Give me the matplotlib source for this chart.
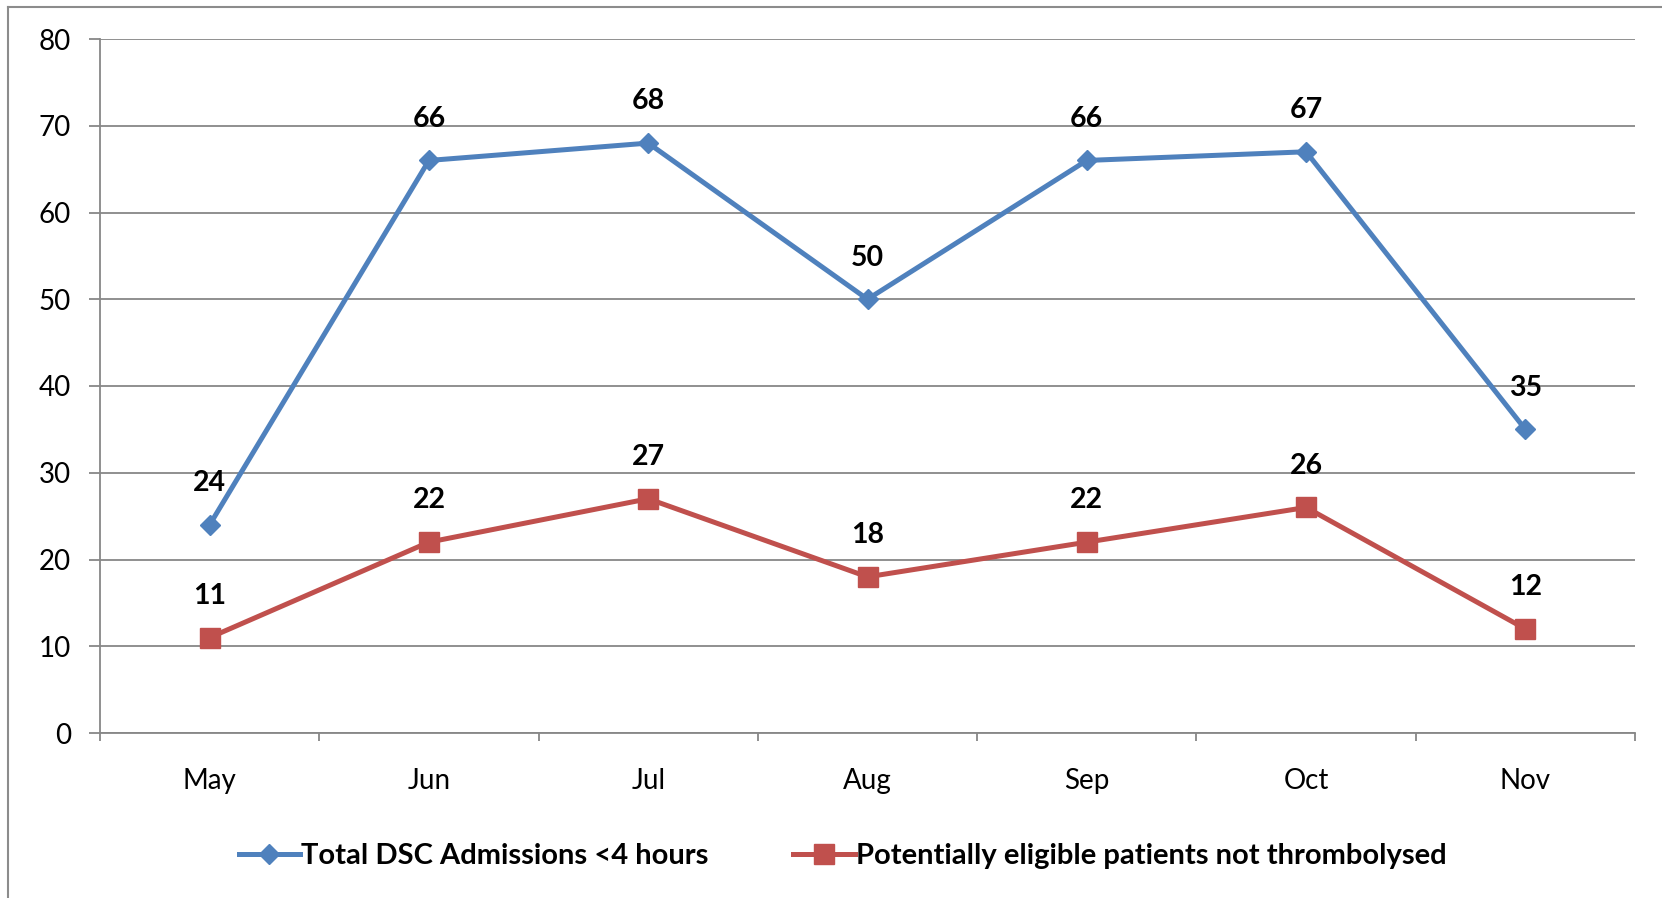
import matplotlib
matplotlib.use('Agg')
import matplotlib.pyplot as plt
from matplotlib.lines import Line2D
import numpy as np

months = ['May', 'Jun', 'Jul', 'Aug', 'Sep', 'Oct', 'Nov']
admissions = [24, 66, 68, 50, 66, 67, 35]
not_thrombolysed = [11, 22, 27, 18, 22, 26, 12]

BLUE = '#4F81BD'
RED = '#C0504D'
GRID = '#878787'

plt.rcParams['font.family'] = ['Lato', 'DejaVu Sans']

fig = plt.figure(figsize=(16.62, 8.98), dpi=100)
ax = fig.add_axes([100 / 1662, 1 - 733 / 898, 1535 / 1662, 694 / 898])

x = np.arange(len(months))
ax.plot(x, admissions, color=BLUE, lw=3.6, marker='D', ms=10.5,
        mfc=BLUE, mec=BLUE, label='Total DSC Admissions <4 hours', zorder=3)
ax.plot(x, not_thrombolysed, color=RED, lw=3.6, marker='s', ms=14,
        mfc=RED, mec=RED, label='Potentially eligible patients not thrombolysed', zorder=3)

for xi, v in zip(x, admissions):
    ax.annotate(str(v), (xi, v), xytext=(0, 30), textcoords='offset points',
                ha='center', va='center', fontsize=20.5, fontweight='bold')
for xi, v in zip(x, not_thrombolysed):
    ax.annotate(str(v), (xi, v), xytext=(0, 30), textcoords='offset points',
                ha='center', va='center', fontsize=20.5, fontweight='bold')

ax.set_xlim(-0.5, len(months) - 0.5)
ax.set_ylim(0, 80)
ax.set_yticks(range(0, 81, 10))
ax.yaxis.grid(True, color=GRID, lw=1.3)
ax.set_axisbelow(True)

ax.set_xticks(x)
ax.set_xticklabels(months)
ax.set_xticks(np.arange(-0.5, len(months)), minor=True)
ax.tick_params(axis='x', which='major', length=0, pad=25, labelsize=20)
ax.tick_params(axis='x', which='minor', length=6, width=1.3, color=GRID, direction='out')
ax.tick_params(axis='y', length=8, width=1.3, color=GRID, pad=13, labelsize=20)

for s in ['top', 'right']:
    ax.spines[s].set_visible(False)
for s in ['left', 'bottom']:
    ax.spines[s].set_color(GRID)
    ax.spines[s].set_linewidth(1.3)

fig.legend(loc='center', bbox_to_anchor=(0.507, 0.047), ncol=2, frameon=False,
           prop={'size': 21, 'weight': 'bold'}, handlelength=2.1,
           columnspacing=2.9, handletextpad=0.05)

# outer chart border (left and top edges visible)
fig.add_artist(Line2D([8 / 1662, 8 / 1662], [0, 1 - 7 / 898], color='#8C8C8C', lw=1.5,
                      transform=fig.transFigure))
fig.add_artist(Line2D([8 / 1662, 1], [1 - 7 / 898, 1 - 7 / 898], color='#8C8C8C', lw=1.5,
                      transform=fig.transFigure))

fig.savefig('out.png', dpi=100)
